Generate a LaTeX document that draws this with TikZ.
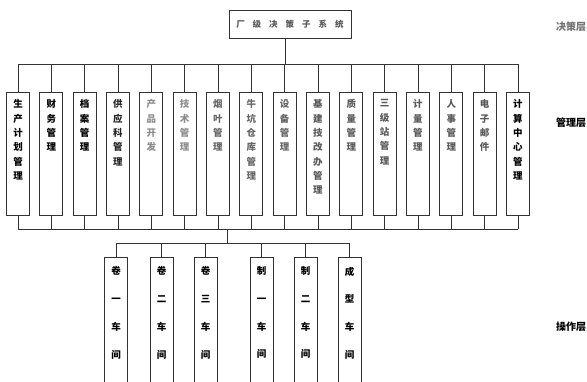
\documentclass[tikz,border=0pt]{standalone}
\usepackage{fontspec}
\newfontfamily\cjk{Noto Sans CJK SC}
\begin{document}
\begin{tikzpicture}[x=1pt,y=-1pt,
  line/.style={draw=black!80,line width=0.9pt},
  mbox/.style={line,minimum width=23pt,minimum height=123pt,inner sep=0pt},
  bbox/.style={line,minimum width=23pt,minimum height=135pt,inner sep=0pt},
  mtext/.style={font=\cjk\bfseries\fontsize{9.5}{14.3}\selectfont,align=center,anchor=north,inner sep=0pt},
  btext/.style={font=\cjk\bfseries\fontsize{9.5}{27.7}\selectfont,align=center,anchor=north,inner sep=0pt},
  layer/.style={font=\cjk\bfseries\fontsize{10}{10}\selectfont,anchor=west,inner sep=0pt}]
\useasboundingbox (0,0) rectangle (587,381);
\clip (0,0) rectangle (587,381);
% top box
\node[line,minimum width=122pt,minimum height=28pt,inner sep=0pt] (top) at (290,24)
  {\cjk\bfseries\fontsize{8.5}{10}\selectfont\color{black!65}厂\hspace{8pt}级\hspace{8pt}决\hspace{8pt}策\hspace{8pt}子\hspace{8pt}系\hspace{8pt}统};
\coordinate (tj) at (285,64);
\draw[line] (tj |- top.south) -- (tj);
% management boxes
\foreach \i/\c/\t in {0/black/{生\\产\\计\\划\\管\\理},1/black/{财\\务\\管\\理},2/black/{档\\案\\管\\理},
  3/black!85/{供\\应\\科\\管\\理},4/black!45/{产\\品\\开\\发},5/black!45/{技\\术\\管\\理},
  6/black!60/{烟\\叶\\管\\理},7/black!60/{牛\\坑\\仓\\库\\管\\理},8/black!60/{设\\备\\管\\理},
  9/black!65/{基\\建\\技\\改\\办\\管\\理},10/black!65/{质\\量\\管\\理},11/black!65/{三\\级\\站\\管\\理},
  12/black!65/{计\\量\\管\\理},13/black!65/{人\\事\\管\\理},14/black!65/{电\\子\\邮\\件},15/black/{计\\算\\中\\心\\管\\理}}{
  \pgfmathsetmacro\xx{18+33.33*\i}
  \node[mbox] (m\i) at (\xx,153.5) {};
  \node[mtext,text=\c] (mt\i) at ([yshift=-8pt]m\i.north) {\t};
}
\coordinate (tl) at (18,64);
\coordinate (tr) at (518,64);
\draw[line] (m0.north |- tl) -- (m15.north |- tl);
\coordinate (bl) at (18,229);
\draw[line] (m0.south |- bl) -- (m15.south |- bl);
\foreach \i in {0,...,15}{
  \draw[line] (m\i.north) -- (m\i.north |- tl);
  \draw[line] (m\i.south) -- (m\i.south |- bl);
}
% workshops
\foreach \j/\xx/\t in {1/116/{卷\\一\\车\\间},2/161.5/{卷\\二\\车\\间},3/205.5/{卷\\三\\车\\间},
  4/261.5/{制\\一\\车\\间},5/305.5/{制\\二\\车\\间},6/349.5/{成\\型\\车\\间}}{
  \node[bbox] (b\j) at (\xx,324.5) {};
  \node[btext] (bt\j) at ([yshift=-10pt]b\j.north) {\t};
}
\coordinate (bj) at (227,229);
\coordinate (cj) at (227,243);
\draw[line] (bj) -- (cj);
\draw[line] (b1.north |- cj) -- (b6.north |- cj);
\foreach \j in {1,...,6}{
  \draw[line] (b\j.north) -- (b\j.north |- cj);
}
% layer labels
\node[layer,text=black!55] (l1) at (556,27) {决策层};
\node[layer] (l2) at (556,123) {管理层};
\node[layer] (l3) at (556,327) {操作层};
\end{tikzpicture}
\end{document}
